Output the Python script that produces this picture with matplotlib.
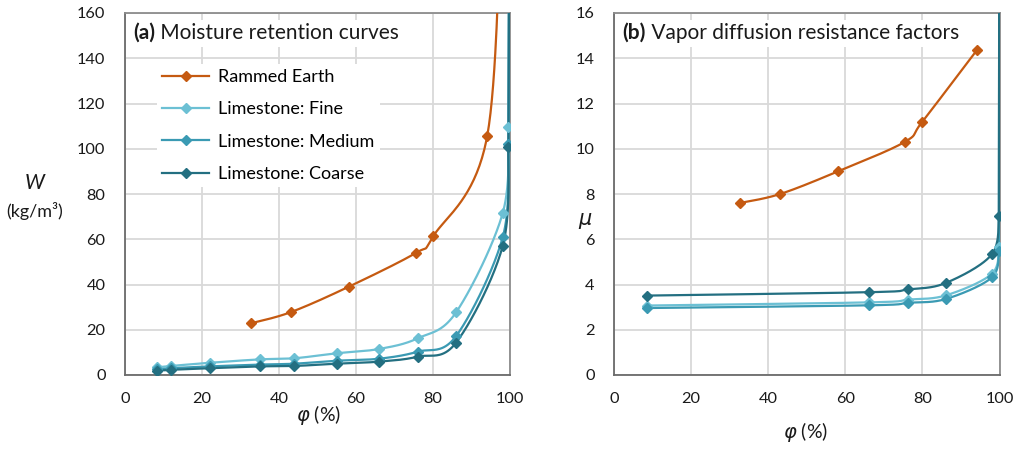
import numpy as np
import matplotlib
matplotlib.use('Agg')
import matplotlib.pyplot as plt
from matplotlib.patches import Rectangle

plt.rcParams['font.family'] = ['Lato', 'DejaVu Sans']
plt.rcParams['mathtext.fontset'] = 'dejavusans'

# relative humidity (%) and moisture content W (kg/m3)
rh_earth_w = [32.6, 43.1, 58.1, 75.6, 80.1, 94.1, 98.0]
w_earth = [22.8, 27.8, 39.0, 54.0, 61.4, 105.8, 230.0]

rh_lime_w = [8.2, 12.0, 22.0, 35.0, 44.0, 55.0, 66.0, 76.0, 86.0, 98.1, 99.6, 100.0]
w_fine = [3.4, 4.0, 5.4, 6.9, 7.4, 9.6, 11.5, 16.2, 27.7, 71.5, 109.5, 300.0]
w_medium = [2.5, 3.0, 3.8, 4.6, 5.0, 6.3, 7.2, 10.3, 17.2, 60.8, 102.0, 300.0]
w_coarse = [1.9, 2.3, 3.0, 3.8, 4.0, 5.0, 5.9, 8.1, 14.3, 57.0, 100.9, 300.0]

# vapour diffusion resistance factor mu
rh_earth_mu = [32.6, 43.1, 58.1, 75.4, 80.0, 94.1]
mu_earth = [7.6, 8.0, 9.0, 10.3, 11.2, 14.35]

rh_lime_mu = [8.5, 66.2, 76.2, 86.1, 98.0, 99.85, 100.0]
mu_fine = [3.07, 3.21, 3.33, 3.52, 4.47, 5.67, 30.0]
mu_medium = [2.96, 3.08, 3.19, 3.36, 4.31, 5.48, 30.0]
mu_coarse = [3.51, 3.66, 3.78, 4.07, 5.33, 7.03, 30.0]

labels = ['Rammed Earth', 'Limestone: Fine', 'Limestone: Medium', 'Limestone: Coarse']
colors = ['#C55A11', '#6CC0D4', '#3A9AB3', '#236F81']


def smooth_xy(ax, x, y, n=40):
    # excel-like smoothed line, bezier segments built in screen space
    pts = ax.transData.transform(np.column_stack([x, y]))
    P = np.vstack([pts[0], pts, pts[-1]])
    t = np.linspace(0, 1, n)[:, None]
    segs = []
    for i in range(1, len(P) - 2):
        p0, p1, p2, p3 = P[i - 1], P[i], P[i + 1], P[i + 2]
        c1 = p1 + (p2 - p0) / 6
        c2 = p2 - (p3 - p1) / 6
        segs.append((1 - t) ** 3 * p1 + 3 * (1 - t) ** 2 * t * c1
                    + 3 * (1 - t) * t ** 2 * c2 + t ** 3 * p2)
    out = ax.transData.inverted().transform(np.vstack(segs))
    return out[:, 0], out[:, 1]


def draw_series(ax, x, y, color, label, tail=False):
    # tail: last point is off the chart, join it with a straight piece
    if tail:
        sx, sy = smooth_xy(ax, x[:-1], y[:-1])
        sx = np.append(sx, x[-1])
        sy = np.append(sy, y[-1])
    else:
        sx, sy = smooth_xy(ax, x, y)
    ax.plot(sx, sy, color=color, lw=1.6, zorder=3)
    ax.plot(x, y, ls='none', marker='D', ms=5, color=color, zorder=4)
    return ax.plot([], [], color=color, lw=1.6, marker='D', ms=5, label=label)[0]


def setup_axes(ax, ymax, ystep):
    ax.set_xlim(0, 100)
    ax.set_ylim(0, ymax)
    ax.set_xticks(np.arange(0, 101, 20))
    ax.set_yticks(np.arange(0, ymax + 0.1, ystep))
    ax.grid(True, color='#d9d9d9', lw=1.3)
    ax.set_axisbelow(True)
    ax.tick_params(length=0, labelsize=11.8, colors='#1a1a1a')
    ax.tick_params(axis='y', pad=14)
    ax.tick_params(axis='x', pad=12)
    for s in ['left', 'bottom']:
        ax.spines[s].set_color('#6b6b6b')
    for s in ['top', 'right']:
        ax.spines[s].set_color('#8c8c8c')
    for s in ax.spines.values():
        s.set_linewidth(1.3)


def panel_title(ax, tag, text, box_w):
    ax.add_patch(Rectangle((0.004, 0.905), box_w, 0.075, transform=ax.transAxes,
                           fc='white', ec='none', zorder=2.5))
    t1 = ax.text(0.022, 0.945, tag, transform=ax.transAxes, fontsize=15,
                 fontweight='bold', va='center', ha='left', color='#1a1a1a', zorder=6)
    ax.annotate(' ' + text, xy=(1, 0.5), xycoords=t1, va='center', ha='left',
                fontsize=15, color='#1a1a1a', zorder=6)


fig = plt.figure(figsize=(10.24, 4.49), dpi=100)
ax1 = fig.add_axes([125 / 1024, 1 - 375 / 449, 385 / 1024, 362 / 449])
ax2 = fig.add_axes([614 / 1024, 1 - 375 / 449, 385.5 / 1024, 362 / 449])

setup_axes(ax1, 160, 20)
setup_axes(ax2, 16, 2)

h = [draw_series(ax1, rh_earth_w, w_earth, colors[0], labels[0]),
     draw_series(ax1, rh_lime_w, w_fine, colors[1], labels[1], tail=True),
     draw_series(ax1, rh_lime_w, w_medium, colors[2], labels[2], tail=True),
     draw_series(ax1, rh_lime_w, w_coarse, colors[3], labels[3], tail=True)]

draw_series(ax2, rh_earth_mu, mu_earth, colors[0], labels[0])
draw_series(ax2, rh_lime_mu, mu_fine, colors[1], labels[1], tail=True)
draw_series(ax2, rh_lime_mu, mu_medium, colors[2], labels[2], tail=True)
draw_series(ax2, rh_lime_mu, mu_coarse, colors[3], labels[3], tail=True)

leg = ax1.legend(handles=h, loc='upper left', bbox_to_anchor=(0.083, 0.86),
                 frameon=True, fontsize=13, handlelength=2.6, handletextpad=0.5,
                 labelspacing=0.9, borderpad=0.3, borderaxespad=0)
leg.get_frame().set_facecolor('white')
leg.get_frame().set_edgecolor('none')
leg.get_frame().set_alpha(1)
leg.set_zorder(6)

panel_title(ax1, '(a)', 'Moisture retention curves', 0.73)
panel_title(ax2, '(b)', 'Vapor diffusion resistance factors', 0.905)

# axis labels
fig.text(35 / 1024, 1 - 183 / 449, 'W', fontsize=15, style='italic',
         ha='center', va='center', color='#1a1a1a')
fig.text(35 / 1024, 1 - 211 / 449, '(kg/m\u00b3)', fontsize=13,
         ha='center', va='center', color='#1a1a1a')
fig.text(585 / 1024, 1 - 221 / 449, r'$\mu$', fontsize=15,
         ha='center', va='center', color='#1a1a1a')
fig.text(319 / 1024, 1 - 415 / 449, r'$\varphi$ (%)', fontsize=14,
         ha='center', va='center', color='#1a1a1a')
fig.text(806 / 1024, 1 - 432 / 449, r'$\varphi$ (%)', fontsize=14,
         ha='center', va='center', color='#1a1a1a')

fig.savefig('out.png', dpi=100)
